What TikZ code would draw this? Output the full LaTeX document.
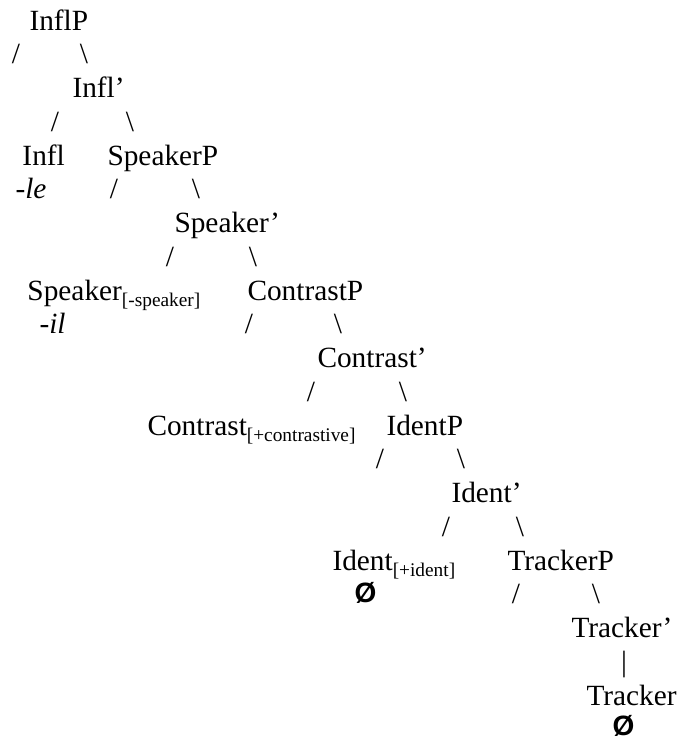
\documentclass[tikz,border=0pt]{standalone}
\usepackage{fontspec}
\setmainfont{Liberation Serif}
\newfontfamily\emptysetfont{Liberation Sans}
\newcommand{\featsub}[1]{\raisebox{-4.5pt}{\fontsize{14.5}{15}\selectfont #1}}

\tikzset{every picture/.style={line width=0.75pt}}
\tikzset{
	lbl/.style={inner sep=0pt, anchor=base west, font=\fontsize{22}{26}\selectfont},
	brnch/.style={inner sep=0pt, anchor=base, font=\fontsize{22}{26}\selectfont},
	nulsym/.style={inner sep=0pt, anchor=base west, font=\emptysetfont\bfseries\fontsize{21}{24}\selectfont}
}

\begin{document}
\begin{tikzpicture}[x=0.75pt,y=0.75pt,yscale=-1,xscale=1]
	\useasboundingbox (0,0) rectangle (677,740);

	% Text Node
	\node[lbl] (inflp) at (29,30) {InflP};
	\node[brnch] (b1l) at (16,63.75) {/};
	\node[brnch] (b1r) at (84,63.75) {\textbackslash};
	% Text Node
	\node[lbl] (inflbar) at (72,97.5) {Infl’};
	\node[brnch] (b2l) at (55,131.25) {/};
	\node[brnch] (b2r) at (130,131.25) {\textbackslash};
	% Text Node
	\node[lbl] (infl) at (22,165) {Infl};
	\node[lbl] (speakerp) at (107,165) {SpeakerP};
	\node[lbl] (le) at (15,198.75) {\itshape -le};
	\node[brnch] (b3l) at (114,198.75) {/};
	\node[brnch] (b3r) at (196,198.75) {\textbackslash};
	% Text Node
	\node[lbl] (speakerbar) at (174,232.5) {Speaker’};
	\node[brnch] (b4l) at (170,266.25) {/};
	\node[brnch] (b4r) at (253,266.25) {\textbackslash};
	% Text Node
	\node[lbl] (speaker) at (27,300) {Speaker\featsub{[-speaker]}};
	\node[lbl] (contrastp) at (247,300) {ContrastP};
	\node[lbl] (il) at (39,333.75) {\itshape -il};
	\node[brnch] (b5l) at (249,333.75) {/};
	\node[brnch] (b5r) at (338,333.75) {\textbackslash};
	% Text Node
	\node[lbl] (contrastbar) at (317,367.5) {Contrast’};
	\node[brnch] (b6l) at (311,401.25) {/};
	\node[brnch] (b6r) at (403,401.25) {\textbackslash};
	% Text Node
	\node[lbl] (contrast) at (147,435) {Contrast\featsub{[+contrastive]}};
	\node[lbl] (identp) at (386,435) {IdentP};
	\node[brnch] (b7l) at (380,468.75) {/};
	\node[brnch] (b7r) at (461,468.75) {\textbackslash};
	% Text Node
	\node[lbl] (identbar) at (451,502.5) {Ident’};
	\node[brnch] (b8l) at (446,536.25) {/};
	\node[brnch] (b8r) at (520,536.25) {\textbackslash};
	% Text Node
	\node[lbl] (ident) at (332,570) {Ident\featsub{[+ident]}};
	\node[lbl] (trackerp) at (507,570) {TrackerP};
	\node[nulsym] (identnull) at (354,602) {Ø};
	\node[brnch] (b9l) at (516,603.75) {/};
	\node[brnch] (b9r) at (596,603.75) {\textbackslash};
	% Text Node
	\node[lbl] (trackerbar) at (571,637.5) {Tracker’};
	\node[brnch] (b10) at (624,671.25) {|};
	% Text Node
	\node[lbl] (tracker) at (586,705) {Tracker};
	\node[nulsym] (trackernull) at (612,735.5) {Ø};

\end{tikzpicture}
\end{document}
